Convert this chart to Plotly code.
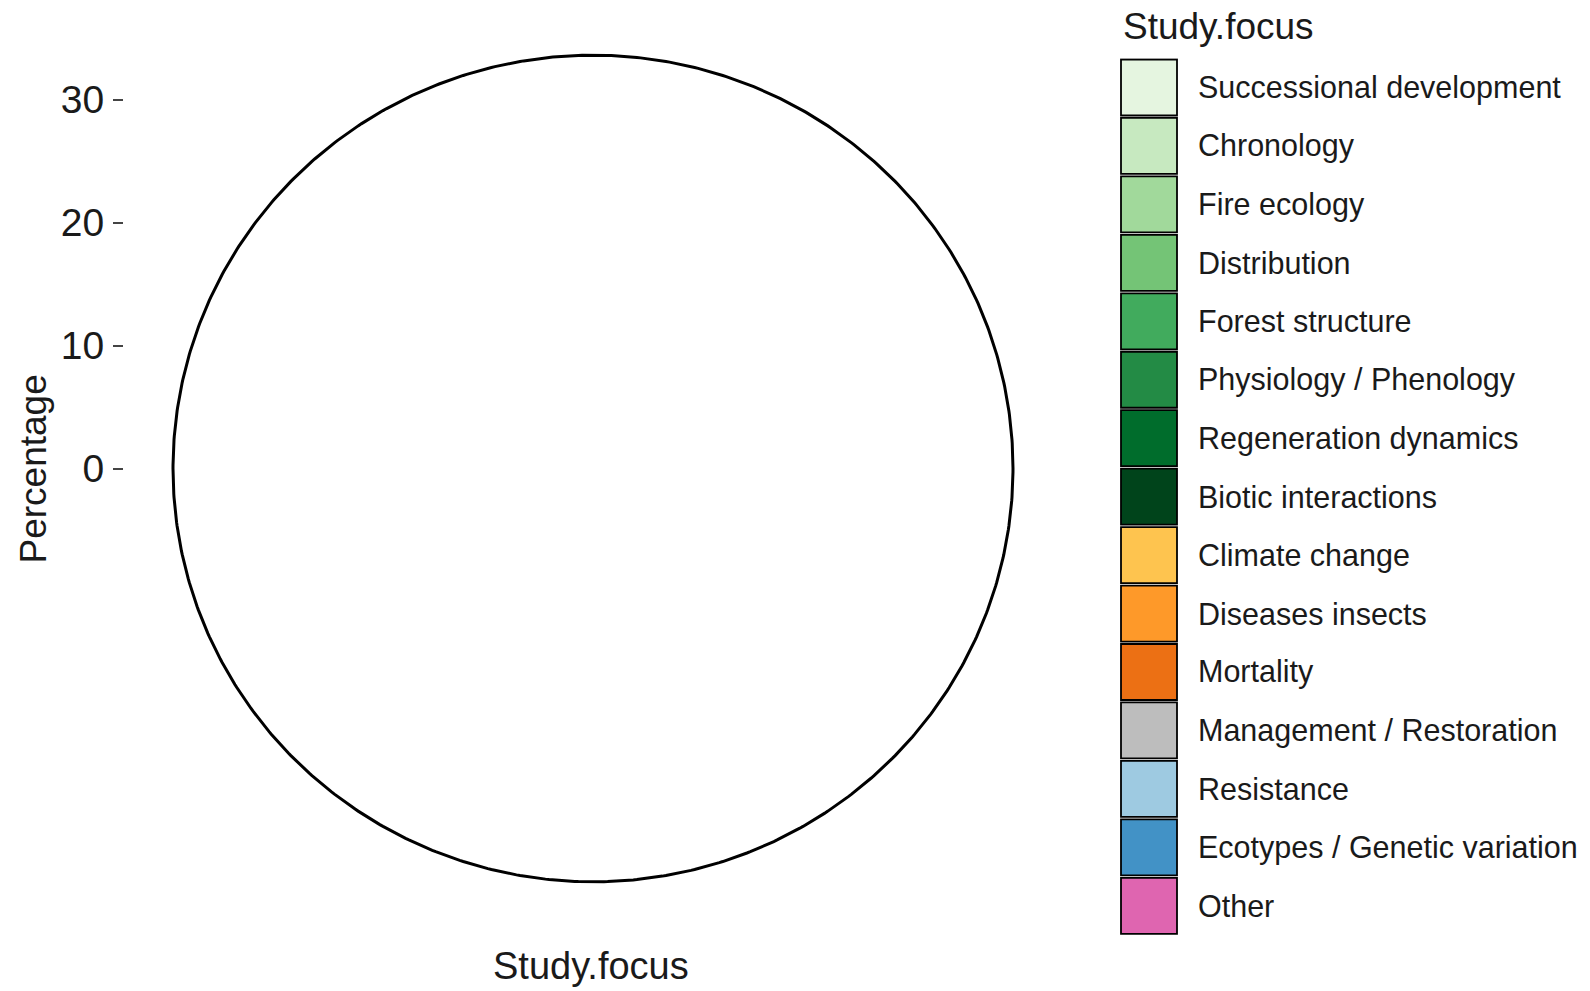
import numpy as np
import plotly.graph_objects as go

# ---- data ----
categories = [
    "Successional development", "Chronology", "Fire ecology", "Distribution",
    "Forest structure", "Physiology / Phenology", "Regeneration dynamics",
    "Biotic interactions", "Climate change", "Diseases insects", "Mortality",
    "Management / Restoration", "Resistance", "Ecotypes / Genetic variation", "Other",
]
colors = [
    "#E5F5E0", "#C7E9C0", "#A1D99B", "#74C476", "#41AB5D", "#238B45", "#006D2C",
    "#00441B", "#FEC44F", "#FE9929", "#EC7014", "#BDBDBD", "#9ECAE1", "#4292C6",
    "#DF65B0",
]
y_ticks = [0, 10, 20, 30]
outer_percentage = [33.6]   # radial extent of the (white) pie

# page body has an 8px margin; the figure fills the rest of the window
OFF = 8
W, H = 1590 - OFF, 991 - OFF
FONT = "Liberation Sans, Arial, sans-serif"


def px_x(px):
    return (px - OFF) / W


def px_y(py):
    return 1 - (py - OFF) / H


fig = go.Figure()

# white pie disc with black outline
theta = np.linspace(0, 2 * np.pi, 721)
R = outer_percentage[0]
fig.add_trace(go.Scatter(
    x=R * np.cos(theta), y=R * np.sin(theta),
    mode="lines", fill="toself", fillcolor="white",
    line=dict(color="black", width=3), hoverinfo="skip",
))

# legend swatches
fig.add_trace(go.Scatter(
    x=[29] * len(categories), y=list(range(len(categories))),
    mode="markers", xaxis="x2", yaxis="y2",
    marker=dict(symbol="square", size=56, color=colors,
                line=dict(color="black", width=1.8)),
    hoverinfo="text", text=categories,
))

annotations = []
for i, c in enumerate(categories):
    annotations.append(dict(
        x=76, y=i, xref="x2", yref="y2", text=c, showarrow=False,
        xanchor="left", yanchor="middle",
        font=dict(family=FONT, size=30.5, color="#1a1a1a"),
    ))
annotations.append(dict(
    x=px_x(1120.5), y=px_y(27), xref="paper", yref="paper", text="Study.focus",
    showarrow=False, xanchor="left", yanchor="middle",
    font=dict(family=FONT, size=37, color="#1a1a1a"),
))
annotations.append(dict(
    x=px_x(591), y=px_y(966), xref="paper", yref="paper", text="Study.focus",
    showarrow=False, xanchor="center", yanchor="middle",
    font=dict(family=FONT, size=38, color="#1a1a1a"),
))
annotations.append(dict(
    x=px_x(33.5), y=px_y(469), xref="paper", yref="paper", text="Percentage",
    showarrow=False, xanchor="center", yanchor="middle", textangle=-90,
    font=dict(family=FONT, size=37, color="#1a1a1a"),
))

# pixel geometry of the panel (window coordinates)
px_left, px_right = 124, 1062
cx = 593
x_scale = 420 / R
y_scale = 12.3
py_top, py_bot = 12, 929
cy = 468.5

fig.update_layout(
    width=W, height=H,
    margin=dict(l=0, r=0, t=0, b=0),
    paper_bgcolor="white", plot_bgcolor="white",
    showlegend=False,
    annotations=annotations,
    xaxis=dict(
        domain=[px_x(px_left), px_x(px_right)],
        range=[(px_left - cx) / x_scale, (px_right - cx) / x_scale],
        visible=False, fixedrange=True,
    ),
    yaxis=dict(
        domain=[px_y(py_bot), px_y(py_top)],
        range=[-(py_bot - cy) / y_scale, (cy - py_top) / y_scale],
        tickvals=y_ticks, ticktext=[str(v) for v in y_ticks],
        ticks="outside", ticklen=10, tickwidth=1.6, tickcolor="#444444",
        ticklabelstandoff=1,
        tickfont=dict(family=FONT, size=39, color="#1a1a1a"),
        showgrid=False, zeroline=False, showline=False, fixedrange=True,
    ),
    xaxis2=dict(
        domain=[px_x(1120), 1.0], range=[0, 470], anchor="y2",
        visible=False, fixedrange=True,
    ),
    yaxis2=dict(
        domain=[px_y(935), px_y(58.3)], range=[14.5, -0.5], anchor="x2",
        visible=False, fixedrange=True,
    ),
)

fig.write_html("out.html")
